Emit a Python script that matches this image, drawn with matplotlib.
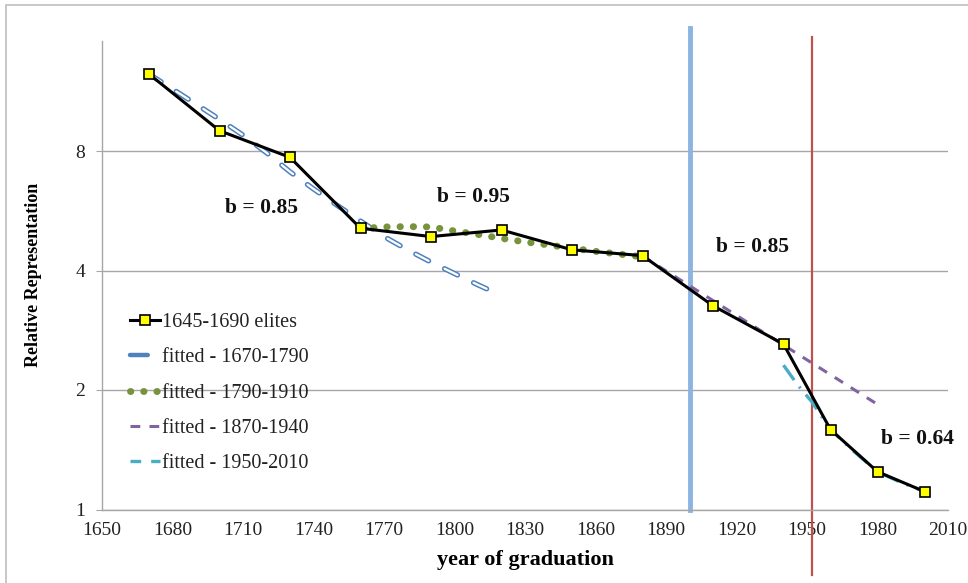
import matplotlib
matplotlib.use("Agg")
import matplotlib.pyplot as plt
from matplotlib.lines import Line2D
from matplotlib.patches import Rectangle
import matplotlib.patheffects as pe

# ---- data ----
years = [1670, 1700, 1730, 1760, 1790, 1820, 1850, 1880, 1910, 1940, 1960, 1980, 2000]
elites = [12.5, 9.0, 7.71, 5.11, 4.87, 5.06, 4.51, 4.36, 3.26, 2.61, 1.59, 1.245, 1.11]

fit1_x = [1670, 1680, 1690, 1700, 1710, 1720, 1730, 1740, 1750, 1760, 1770, 1780, 1790, 1800, 1810, 1819]
fit1_y = [12.5, 11.46, 10.5, 9.61, 8.77, 7.92, 7.09, 6.42, 5.84, 5.33, 4.87, 4.51, 4.20, 3.93, 3.68, 3.48]

fit2_x = [1760, 1770, 1780, 1790, 1800, 1810, 1820, 1830, 1840, 1850, 1860, 1870, 1880]
fit2_y = [5.10, 5.15, 5.16, 5.15, 5.03, 4.93, 4.82, 4.72, 4.64, 4.55, 4.47, 4.40, 4.33]

fit3_x = [1880, 1980]
fit3_y = [4.35, 1.84]

fit4_x = [1940, 1946, 1952, 1960, 1970, 1980, 1990, 2000]
fit4_y = [2.31, 2.06, 1.87, 1.59, 1.40, 1.245, 1.17, 1.11]

vline_blue = 1900
vline_red = 1952.3

labels = ["1645-1690 elites", "fitted - 1670-1790", "fitted - 1790-1910",
          "fitted - 1870-1940", "fitted - 1950-2010"]
annotations = [("b = 0.85", 1717.7, 5.75), ("b = 0.95", 1808.0, 6.13),
               ("b = 0.85", 1926.9, 4.58), ("b = 0.64", 1997.2, 1.505)]
xticks = list(range(1650, 2011, 30))
yticks = [1, 2, 4, 8]

# ---- style ----
SERIF = ["Liberation Serif", "DejaVu Serif"]
plt.rcParams["font.family"] = SERIF
GRID = "#A6A6A6"
C_BLUE = "#4F81BD"
C_GREEN = "#77933C"
C_PURPLE = "#8064A2"
C_CYAN = "#4BACC6"
GREEN_STYLE = (0, (0.05, 1.85))

fig = plt.figure(figsize=(9.68, 5.83), dpi=100)
ax = fig.add_axes([102 / 968, 1 - 509.5 / 583, (948 - 102) / 968, (509.5 - 41) / 583])

ax.set_yscale("log", base=2)
ax.set_xlim(1650, 2010)
ax.set_ylim(1, 2 ** ((509.5 - 41) / 119.5))
ax.set_xticks(xticks)
ax.set_xticklabels([str(v) for v in xticks])
ax.set_yticks(yticks)
ax.set_yticklabels([str(v) for v in yticks])
ax.minorticks_off()
ax.yaxis.grid(True, color=GRID, lw=1.0)
ax.set_axisbelow(True)
for s in ["top", "right"]:
    ax.spines[s].set_visible(False)
for s in ["left", "bottom"]:
    ax.spines[s].set_color(GRID)
    ax.spines[s].set_linewidth(1.0)
ax.tick_params(axis="y", length=4, color=GRID, pad=8, labelsize=14, labelcolor="#222222")
ax.tick_params(axis="x", length=0, pad=9, labelsize=14, labelcolor="#222222")

# vertical reference lines
ax.axvline(vline_blue, ymin=0, ymax=1.028, color="#8DB3E2", lw=3.5, clip_on=False, zorder=1)
ax.axvline(vline_red, ymin=-0.14, ymax=1.009, color="#C0504D", lw=1.6, clip_on=False, zorder=1)

# fitted lines
ax.plot(fit1_x, fit1_y, color="white", lw=1.6, dashes=(6.5, 8), dash_capstyle="round",
        path_effects=[pe.Stroke(linewidth=3.8, foreground=C_BLUE), pe.Normal()], zorder=3)
ax.plot(fit2_x, fit2_y, color=C_GREEN, lw=5.0, linestyle=GREEN_STYLE,
        dash_capstyle="round", zorder=3)
ax.plot(fit3_x, fit3_y, color=C_PURPLE, lw=2.2, dashes=(3.2, 3.0), zorder=3)
ax.plot(fit4_x, fit4_y, color=C_CYAN, lw=2.4, dashes=(5.5, 2.5, 0.6, 2.5), zorder=3)

# main series
ax.plot(years, elites, color="black", lw=2.2, marker="s", markersize=6.5,
        markerfacecolor="#FFFF00", markeredgecolor="black", markeredgewidth=1.2, zorder=4)

for txt, x, y in annotations:
    ax.text(x, y, txt, ha="center", va="center", fontsize=15.5, fontweight="bold", color="#111111")

ax.set_xlabel("year of graduation", fontsize=16, fontweight="bold", labelpad=8)
ax.set_ylabel("Relative Representation", fontsize=13, fontweight="bold", labelpad=24)

handles = [
    Line2D([], [], color="black", lw=2.2, marker="s", markersize=6.5,
           markerfacecolor="#FFFF00", markeredgecolor="black", markeredgewidth=1.2),
    Line2D([], [], color=C_BLUE, lw=3.2, dashes=(4, 10), solid_capstyle="round", dash_capstyle="round"),
    Line2D([], [], color=C_GREEN, lw=5.0, linestyle=GREEN_STYLE, dash_capstyle="round"),
    Line2D([], [], color=C_PURPLE, lw=2.2, dashes=(3.2, 3.0)),
    Line2D([], [], color=C_CYAN, lw=2.4, dashes=(3.2, 3.0)),
]
leg = ax.legend(handles, labels, loc="upper left", bbox_to_anchor=(122 / 968, 1 - 305 / 583),
                bbox_transform=fig.transFigure, frameon=False, fontsize=14.5,
                handlelength=1.5, handletextpad=0.1, labelspacing=0.8, borderaxespad=0)
for t in leg.get_texts():
    t.set_color("#222222")

# chart border
fig.add_artist(Rectangle((6 / 968, -0.05), 1.2, 1.05 - 5 / 583, transform=fig.transFigure,
                         fill=False, edgecolor="#BFBFBF", lw=1.2))

fig.savefig("out.png", dpi=100)
